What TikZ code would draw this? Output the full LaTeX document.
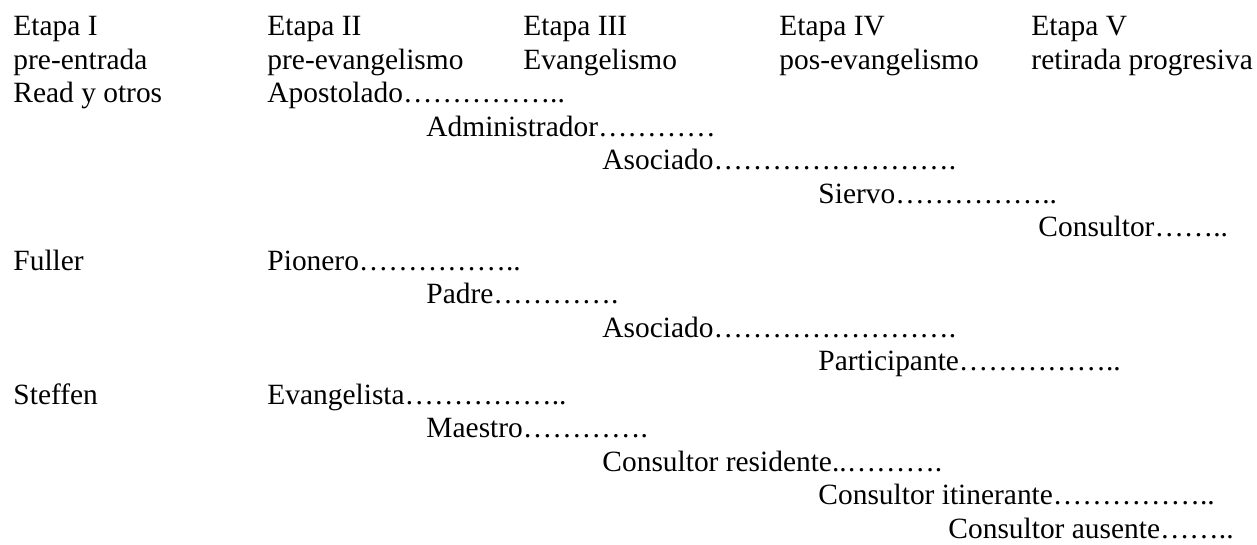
\documentclass[tikz,border=0pt]{standalone}
\usepackage{fontspec}
\setmainfont{Liberation Serif}
\usepackage{tikz}

\begin{document}
\begin{tikzpicture}[x = 0.408pt, y = -0.408pt,
    txt/.style = {anchor = base west, inner sep = 0pt, font = \fontsize{12pt}{14pt}\selectfont}]
    \useasboundingbox (0,0) rectangle (1257,544);

    % stages
    \node[txt](etapaI) at (13,35.5) {Etapa I};
    \node[txt](etapaII) at (267,35.5) {Etapa II};
    \node[txt](etapaIII) at (523,35.5) {Etapa III};
    \node[txt](etapaIV) at (779,35.5) {Etapa IV};
    \node[txt](etapaV) at (1031,35.5) {Etapa V};
    \node[txt](preEntrada) at (13,69) {pre-entrada};
    \node[txt](preEvangelismo) at (267,69) {pre-evangelismo};
    \node[txt](evangelismo) at (523,69) {Evangelismo};
    \node[txt](posEvangelismo) at (779,69) {pos-evangelismo};
    \node[txt](retirada) at (1031,69) {retirada progresiva};

    % Read
    \node[txt](readOtros) at (13,102.5) {Read y otros};
    \node[txt](apostolado) at (267,102.5) {Apostolado……………..};
    \node[txt](administrador) at (426,136) {Administrador…………};
    \node[txt](asociadoRead) at (602,169.5) {Asociado…………………….};
    \node[txt](siervo) at (818,203) {Siervo……………..};
    \node[txt](consultorRead) at (1038,236.5) {Consultor……..};

    % Fuller
    \node[txt](fuller) at (13,270) {Fuller};
    \node[txt](pionero) at (267,270) {Pionero……………..};
    \node[txt](padre) at (426,303.5) {Padre………….};
    \node[txt](asociadoFuller) at (602,337) {Asociado…………………….};
    \node[txt](participante) at (818,370.5) {Participante……………..};

    % Steffen
    \node[txt](steffen) at (13,404) {Steffen};
    \node[txt](evangelista) at (267,404) {Evangelista……………..};
    \node[txt](maestro) at (426,437.5) {Maestro………….};
    \node[txt](consultorResidente) at (602,471) {Consultor residente..……….};
    \node[txt](consultorItinerante) at (818,504.5) {Consultor itinerante……………..};
    \node[txt](consultorAusente) at (948,538) {Consultor ausente……..};
\end{tikzpicture}
\end{document}
